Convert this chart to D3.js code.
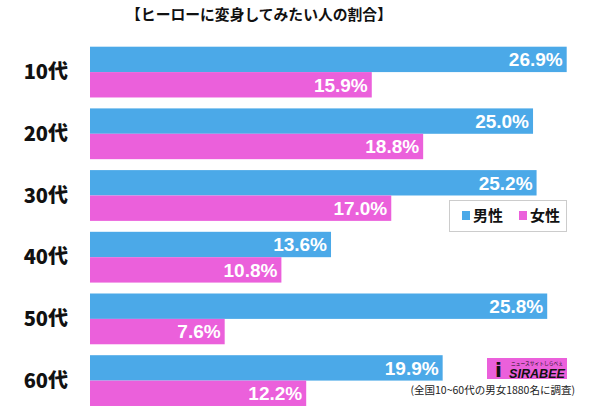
<!DOCTYPE html>
<html><head><meta charset="utf-8">
<script src="https://cdn.jsdelivr.net/npm/d3@7/dist/d3.min.js"></script>
<style>body{margin:0;background:#fff}svg{display:block}</style>
</head><body>
<svg id="c" width="600" height="412"></svg>
<script>
const categories = ["10代","20代","30代","40代","50代","60代"];
const seriesNames = ["男性","女性"];
const male = [26.9, 25.0, 25.2, 13.6, 25.8, 19.9];
const female = [15.9, 18.8, 17.0, 10.8, 7.6, 12.2];
const title = "【ヒーローに変身してみたい人の割合】";
const note = "(全国10~60代の男女1880名に調査)";
const colors = ["#4BA9E8", "#EB60DB"];

const svg = d3.select("#c");
const jp = "'Noto Sans CJK JP','Noto Sans',sans-serif";
const x = d3.scaleLinear().domain([0, 26.9]).range([90, 566.7]);
const step = 61.7, p = 0.177;
const y = d3.scaleBand().domain(categories).range([46.7, 46.7 + step*(6-p)]).paddingInner(p).paddingOuter(0);
const yi = d3.scaleBand().domain(seriesNames).range([0, y.bandwidth()]);

svg.append("text").attr("x", 259).attr("y", 20).attr("text-anchor","middle")
  .attr("font-family", jp).attr("font-weight", 700).attr("font-size", 14.8).attr("fill","#111").text(title);

const data = categories.map((c,i)=>({c, vals:[male[i], female[i]]}));
const g = svg.selectAll("g.row").data(data).join("g").attr("transform", d=>`translate(0,${y(d.c)})`);
g.append("text").attr("x", 68).attr("y", y.bandwidth()/2).attr("dy","0.36em").attr("text-anchor","end")
  .attr("font-family", jp).attr("font-weight", 900).attr("font-size", 20).attr("fill","#111").text(d=>d.c);
seriesNames.forEach((s,k)=>{
  g.append("rect").attr("x", x(0)).attr("y", yi(s)).attr("width", d=>x(d.vals[k])-x(0)).attr("height", yi.bandwidth()).attr("fill", colors[k]);
  g.append("text").attr("x", d=>x(d.vals[k])-4).attr("y", yi(s)+yi.bandwidth()/2).attr("dy","0.36em").attr("text-anchor","end")
    .attr("font-family","'Liberation Sans',Arial,sans-serif").attr("font-weight",700).attr("font-size",19).attr("fill","#fff")
    .text(d=>d.vals[k].toFixed(1)+"%");
});

// legend
const lg = svg.append("g");
lg.append("rect").attr("x",449.5).attr("y",200.5).attr("width",117).attr("height",31).attr("fill","#fff").attr("stroke","#ccc");
seriesNames.forEach((s,k)=>{
  const lx = 462 + k*57;
  lg.append("rect").attr("x",lx).attr("y",211).attr("width",8).attr("height",9).attr("fill",colors[k]);
  lg.append("text").attr("x",lx+11).attr("y",216).attr("dy","0.36em").attr("font-family",jp).attr("font-weight",700).attr("font-size",15).attr("fill","#111").text(s);
});

// logo
const lo = svg.append("g");
lo.append("rect").attr("x",487).attr("y",358).attr("width",80).attr("height",21).attr("fill","#EB60DB");
lo.append("text").attr("x",495).attr("y",377).attr("font-family","'DejaVu Sans',sans-serif").attr("font-weight",700).attr("font-size",20).attr("fill","#111").text("i");
lo.append("text").attr("x",511).attr("y",365).attr("textLength",52).attr("lengthAdjust","spacingAndGlyphs").attr("font-family",jp).attr("font-size",5).attr("fill","#111").text("ニュースサイトしらべぇ");
lo.append("text").attr("x",509).attr("y",377.5).attr("textLength",56).attr("lengthAdjust","spacingAndGlyphs").attr("font-family","'Liberation Sans',Arial,sans-serif").attr("font-weight",700).attr("font-style","italic").attr("font-size",12).attr("fill","#111").text("SIRABEE");

svg.append("text").attr("x",575).attr("y",394).attr("text-anchor","end").attr("font-family",jp).attr("font-size",10.5).attr("fill","#222").text(note);
</script>
</body></html>
